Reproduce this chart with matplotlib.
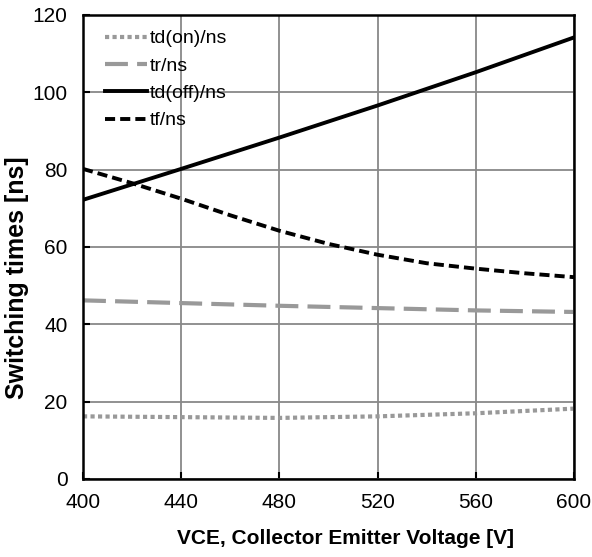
import numpy as np
import matplotlib.pyplot as plt

plt.rcParams['font.family'] = ['Liberation Sans', 'DejaVu Sans']

vce = [400, 440, 480, 520, 560, 600]
td_on = [16.2, 16.0, 15.8, 16.2, 17.0, 18.2]
tr = [46.2, 45.5, 44.8, 44.2, 43.6, 43.2]
td_off = [72.2, 80.2, 88.3, 96.6, 105.2, 114.2]
vce_tf = [400, 420, 440, 460, 480, 500, 520, 540, 560, 580, 600]
tf = [80.2, 76.5, 72.5, 68.2, 64.2, 60.8, 58.0, 55.8, 54.4, 53.2, 52.2]

fig = plt.figure(figsize=(5.92, 5.57), dpi=100)
ax = fig.add_axes([83 / 592, 1 - 479 / 557, 491 / 592, 464 / 557])

ax.plot(vce, td_on, color='#999999', lw=3, linestyle=(0, (1, 0.8)), label='td(on)/ns')
ax.plot(vce, tr, color='#999999', lw=3, linestyle=(0, (5.5, 2.2)), label='tr/ns')
ax.plot(vce, td_off, color='black', lw=2.8, label='td(off)/ns')
ax.plot(vce_tf, tf, color='black', lw=2.8, linestyle=(0, (2.6, 1.3)), label='tf/ns')

ax.set_xlim(400, 600)
ax.set_ylim(0, 120)
ax.set_xticks(np.arange(400, 601, 40))
ax.set_yticks(np.arange(0, 121, 20))
ax.grid(True, color='#888888', lw=1.3)
ax.tick_params(direction='in', length=5, width=1.5, labelsize=15)
ax.tick_params(axis='x', pad=10)
ax.tick_params(axis='y', pad=11)
for s in ax.spines.values():
    s.set_linewidth(1.8)

ax.set_xlabel('VCE, Collector Emitter Voltage [V]', fontsize=15, fontweight='bold')
ax.set_ylabel('Switching times [ns]', fontsize=18, fontweight='bold')
ax.xaxis.set_label_coords(0.535, -0.108)
ax.yaxis.set_label_coords(-0.11, 0.434)

leg = ax.legend(loc='upper left', frameon=False, fontsize=14, handlelength=2.15,
                handletextpad=0.15, labelspacing=0.5, borderpad=0, borderaxespad=0,
                bbox_to_anchor=(0.045, 0.968))

fig.savefig('out.png', dpi=100)
